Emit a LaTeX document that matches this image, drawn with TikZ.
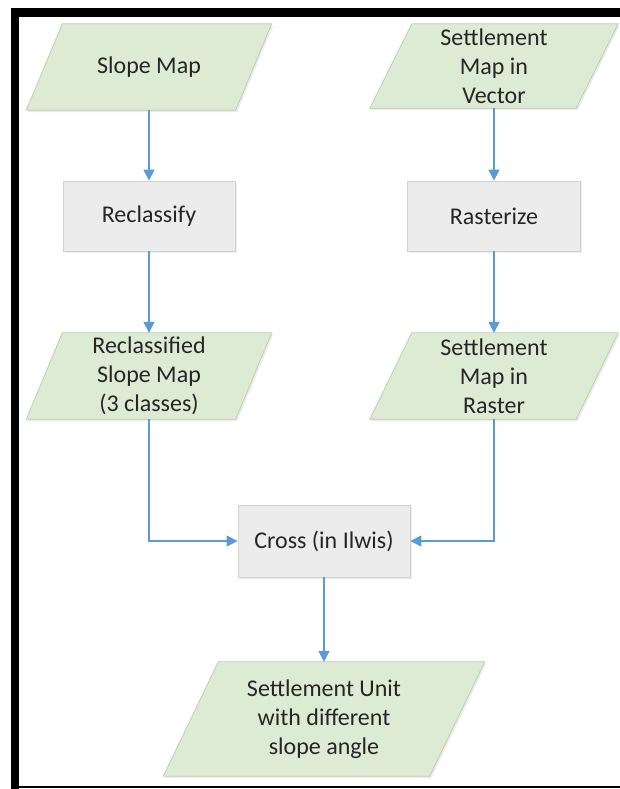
\documentclass[tikz,border=0pt]{standalone}
\usepackage{fontspec}
\setmainfont{Carlito}
\usetikzlibrary{calc,arrows.meta,backgrounds,shadows}
\definecolor{pgreen}{HTML}{DDEAD4}
\definecolor{pgreenb}{HTML}{BDD0AF}
\definecolor{pgray}{HTML}{ECECEC}
\definecolor{pgrayb}{HTML}{D0D0D0}
\definecolor{parrow}{HTML}{5B9BD5}
\definecolor{ptext}{HTML}{262626}
\newcommand{\drawpara}[2]{\draw[para] ($(#1.north west)+(#2,0)$) -- ($(#1.north east)+(#2,0)$) -- ($(#1.south east)+(-#2,0)$) -- ($(#1.south west)+(-#2,0)$) -- cycle;}
\begin{document}
\begin{tikzpicture}[x=1pt,y=-1pt,
  lbl/.style={draw=none, inner sep=0pt, align=center, font=\fontsize{24}{29}\selectfont, text=ptext},
  procbox/.style={lbl, draw=pgrayb, fill=pgray, line width=0.8pt, drop shadow={shadow xshift=1.5pt, shadow yshift=-2pt, opacity=0.15}},
  para/.style={draw=pgreenb, fill=pgreen, line width=0.8pt, drop shadow={shadow xshift=1.5pt, shadow yshift=-2pt, opacity=0.15}},
  flow/.style={draw=parrow, line width=1.4pt, -{Triangle[width=11pt,length=11pt]}}]
\useasboundingbox (0,0) rectangle (620,789);

% nodes
\node[lbl, minimum width=209, minimum height=86] (sm) at (149,67) {Slope Map};
\node[lbl, minimum width=206, minimum height=84] (sv) at (494,66) {Settlement\\Map in\\Vector};
\node[procbox, minimum width=172, minimum height=70] (rc) at (149,216) {Reclassify};
\node[procbox, minimum width=173, minimum height=70] (rz) at (494,216) {Rasterize};
\node[lbl, minimum width=209, minimum height=86] (rcs) at (149,376) {Reclassified\\Slope Map\\(3 classes)};
\node[lbl, minimum width=206, minimum height=86] (sr) at (494,376) {Settlement\\Map in\\Raster};
\node[procbox, minimum width=172, minimum height=72] (cr) at (324,541) {Cross (in Ilwis)};
\node[lbl, minimum width=266, minimum height=114] (fin) at (324,719) {Settlement Unit\\with different\\slope angle};

\begin{scope}[on background layer]
\fill[white] (0,0) rectangle (620,789);
\drawpara{sm}{18}
\drawpara{sv}{21}
\drawpara{rcs}{18}
\drawpara{sr}{21}
\drawpara{fin}{27.5}
\end{scope}

% frame
\fill[black] (11,8) rectangle (620,17);
\fill[black] (11,8) rectangle (19,789);
\fill[black] (11,786) rectangle (620,788);

% connectors
\draw[flow] (sm.south) -- (rc.north);
\draw[flow] (sv.south) -- (rz.north);
\draw[flow] (rc.south) -- (rcs.north);
\draw[flow] (rz.south) -- (sr.north);
\draw[flow] (rcs.south) |- (cr.west);
\draw[flow] (sr.south) |- (cr.east);
\draw[flow] (cr.south) -- (fin.north);
\end{tikzpicture}
\end{document}
